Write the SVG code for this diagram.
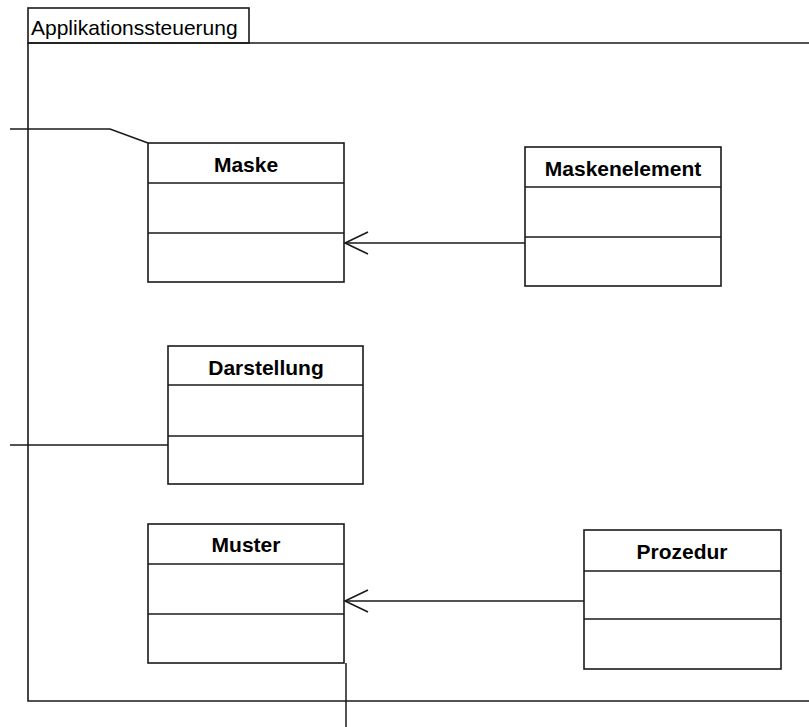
<svg xmlns="http://www.w3.org/2000/svg" width="809" height="727" viewBox="0 0 809 727">
  <style>
    .box { fill: #ffffff; stroke: #1a1a1a; stroke-width: 1.6; }
    .sep { stroke: #1a1a1a; stroke-width: 1.6; fill: none; }
    .edge { stroke: #1a1a1a; stroke-width: 1.5; fill: none; }
    .name { font-family: "Liberation Sans", Arial, sans-serif; font-weight: bold; font-size: 21px; fill: #000; text-anchor: middle; }
    .pkg { font-family: "Liberation Sans", Arial, sans-serif; font-size: 21px; fill: #000; }
  </style>
  <defs>
    <!-- open navigability arrowhead, tip at the path end -->
    <marker id="open" markerUnits="userSpaceOnUse" markerWidth="28" markerHeight="28" viewBox="-26 -14 28 28" refX="0" refY="0" orient="auto">
      <path d="M -23 -11 L 0 0 L -23 11" fill="none" stroke="#1a1a1a" stroke-width="1.6"/>
    </marker>
  </defs>
  <rect width="809" height="727" fill="#ffffff"/>

  <!-- package frame (continues past the right edge) -->
  <g id="package">
    <rect class="box" x="28" y="8" width="221" height="35"/>
    <text class="pkg" x="31" y="35">Applikationssteuerung</text>
    <path class="sep" d="M 809 43 L 28 43 L 28 701 L 809 701"/>
  </g>

  <g id="maske">
    <rect class="box" x="148" y="143" width="196" height="139"/>
    <line class="sep" x1="148" y1="183" x2="344" y2="183"/>
    <line class="sep" x1="148" y1="233" x2="344" y2="233"/>
    <text class="name" x="246" y="172">Maske</text>
  </g>

  <g id="maskenelement">
    <rect class="box" x="525" y="147" width="196" height="139"/>
    <line class="sep" x1="525" y1="187" x2="721" y2="187"/>
    <line class="sep" x1="525" y1="237" x2="721" y2="237"/>
    <text class="name" x="623" y="176">Maskenelement</text>
  </g>

  <g id="darstellung">
    <rect class="box" x="168" y="346" width="195" height="138"/>
    <line class="sep" x1="168" y1="385" x2="363" y2="385"/>
    <line class="sep" x1="168" y1="436" x2="363" y2="436"/>
    <text class="name" x="266" y="375">Darstellung</text>
  </g>

  <g id="muster">
    <rect class="box" x="148" y="524" width="196" height="139"/>
    <line class="sep" x1="148" y1="564" x2="344" y2="564"/>
    <line class="sep" x1="148" y1="614" x2="344" y2="614"/>
    <text class="name" x="246" y="552">Muster</text>
  </g>

  <g id="prozedur">
    <rect class="box" x="584" y="530" width="197" height="139"/>
    <line class="sep" x1="584" y1="571" x2="781" y2="571"/>
    <line class="sep" x1="584" y1="619" x2="781" y2="619"/>
    <text class="name" x="682" y="559">Prozedur</text>
  </g>

  <!-- connectors -->
  <g id="connectors">
    <path class="edge" d="M 10 129 L 110 129 L 148 143"/>
    <path class="edge" d="M 10 445 L 168 445"/>
    <path class="edge" d="M 346 663 L 346 727"/>
    <path class="edge" d="M 525 243 L 345 243" marker-end="url(#open)"/>
    <path class="edge" d="M 584 601 L 345 601" marker-end="url(#open)"/>
  </g>
</svg>
